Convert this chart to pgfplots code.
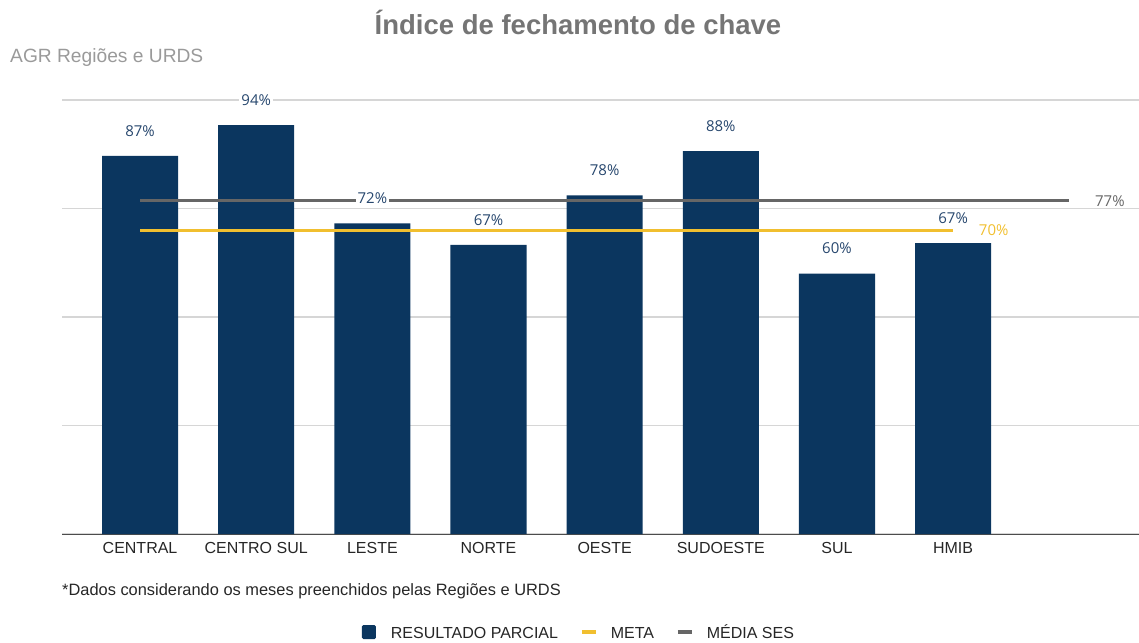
\documentclass[border=0pt]{standalone}
\usepackage{pgfplots}
\usepackage{pgfplotstable}
\pgfplotsset{compat=1.18}
\usepackage{fontspec}
\setmainfont{Liberation Sans}
\newfontfamily\lblfont{Open Sans}
\definecolor{navy}{HTML}{0B365F}
\definecolor{metac}{HTML}{F1BF2F}
\definecolor{mediac}{HTML}{666666}
\definecolor{lblc}{HTML}{27476E}
\definecolor{titlegray}{HTML}{757575}
\definecolor{subgray}{HTML}{9A9A9A}
\definecolor{gridgray}{HTML}{D6D6D6}

\pgfplotstableread{
x y
0 87.1
1 94.2
2 71.6
3 66.6
4 78.0
5 88.2
6 60.0
7 67.0
}\bars
\pgfplotstableread{
x y
0 70
7 70
}\meta
\pgfplotstableread{
x y
0 76.8
8 76.8
}\media

\begin{document}
\begin{tikzpicture}
\path[use as bounding box] (0pt,0pt) rectangle (1139pt,642pt);
\node[anchor=center, font=\bfseries\fontsize{27.5}{30}\selectfont, text=titlegray] at (578pt,620pt) {Índice de fechamento de chave};
\node[anchor=west, inner sep=0pt, font=\fontsize{19.2}{22}\selectfont, text=subgray] at (10pt,584pt) {AGR Regiões e URDS};
\node[anchor=west, inner sep=0pt, font=\fontsize{16.4}{19}\selectfont, text=black!85] at (62pt,51pt) {*Dados considerando os meses preenchidos pelas Regiões e URDS};
\begin{axis}[
  at={(62pt,108pt)}, anchor=south west,
  scale only axis, width=1077pt, height=434pt,
  xmin=-0.672, xmax=8.60, ymin=0, ymax=100,
  axis lines*=left,
  axis line style={-},
  x axis line style={draw=black!70, line width=1pt},
  y axis line style={draw=none},
  ytick={0,25,50,75,100}, yticklabels={},
  ymajorgrids, grid style={gridgray, line width=1.2pt},
  xtick={0,1,2,3,4,5,6,7},
  xticklabels={CENTRAL,CENTRO SUL,LESTE,NORTE,OESTE,SUDOESTE,SUL,HMIB},
  major tick length=0pt,
  xticklabel style={font=\fontsize{16}{19}\selectfont, text=black!85, yshift=-5pt},
  legend columns=3,
  legend style={draw=none, at={(0.48,-0.226)}, anchor=center,
    font=\fontsize{16}{19}\selectfont, text=black!85,
    /tikz/every even column/.append style={column sep=20pt}},
]
\addplot[ybar, bar width=0.655, bar shift=0pt, fill=navy, draw=none,
  legend image code/.code={\fill[navy, rounded corners=1.5pt] (0pt,-7pt) rectangle (14pt,7pt); \path[draw=none,fill=none] (0pt,0pt) -- (27pt,0pt);}]
  table[x=x,y=y] {\bars};
\addlegendentry{RESULTADO PARCIAL\vphantom{É}}
\addplot[metac, line width=3pt, mark=none,
  legend image code/.code={\draw[metac, line width=3.5pt] (0pt,0pt) -- (14pt,0pt); \path[draw=none,fill=none] (0pt,0pt) -- (27pt,0pt);}]
  table[x=x,y=y] {\meta} node[pos=1, anchor=west, xshift=21pt, text=metac, font=\lblfont\fontsize{15}{18}\selectfont] {70\%};
\addlegendentry{META\vphantom{É}}
\addplot[mediac, line width=3pt, mark=none,
  legend image code/.code={\draw[mediac, line width=3.5pt] (0pt,0pt) -- (14pt,0pt); \path[draw=none,fill=none] (0pt,0pt) -- (27pt,0pt);}]
  table[x=x,y=y] {\media} node[pos=1, anchor=west, xshift=21pt, text=mediac, font=\lblfont\fontsize{15}{18}\selectfont] {77\%};
\addlegendentry{MÉDIA SES}
\addplot[draw=none, mark=none, forget plot,
  nodes near coords={\pgfmathprintnumber[fixed,precision=0,assume math mode=true]{\pgfplotspointmeta}\%},
  every node near coord/.append style={anchor=center, yshift=25pt, fill=white, inner sep=2pt,
    text=lblc, font=\lblfont\fontsize{15}{18}\selectfont}]
  table[x=x,y=y] {\bars};
\end{axis}
\end{tikzpicture}
\end{document}
